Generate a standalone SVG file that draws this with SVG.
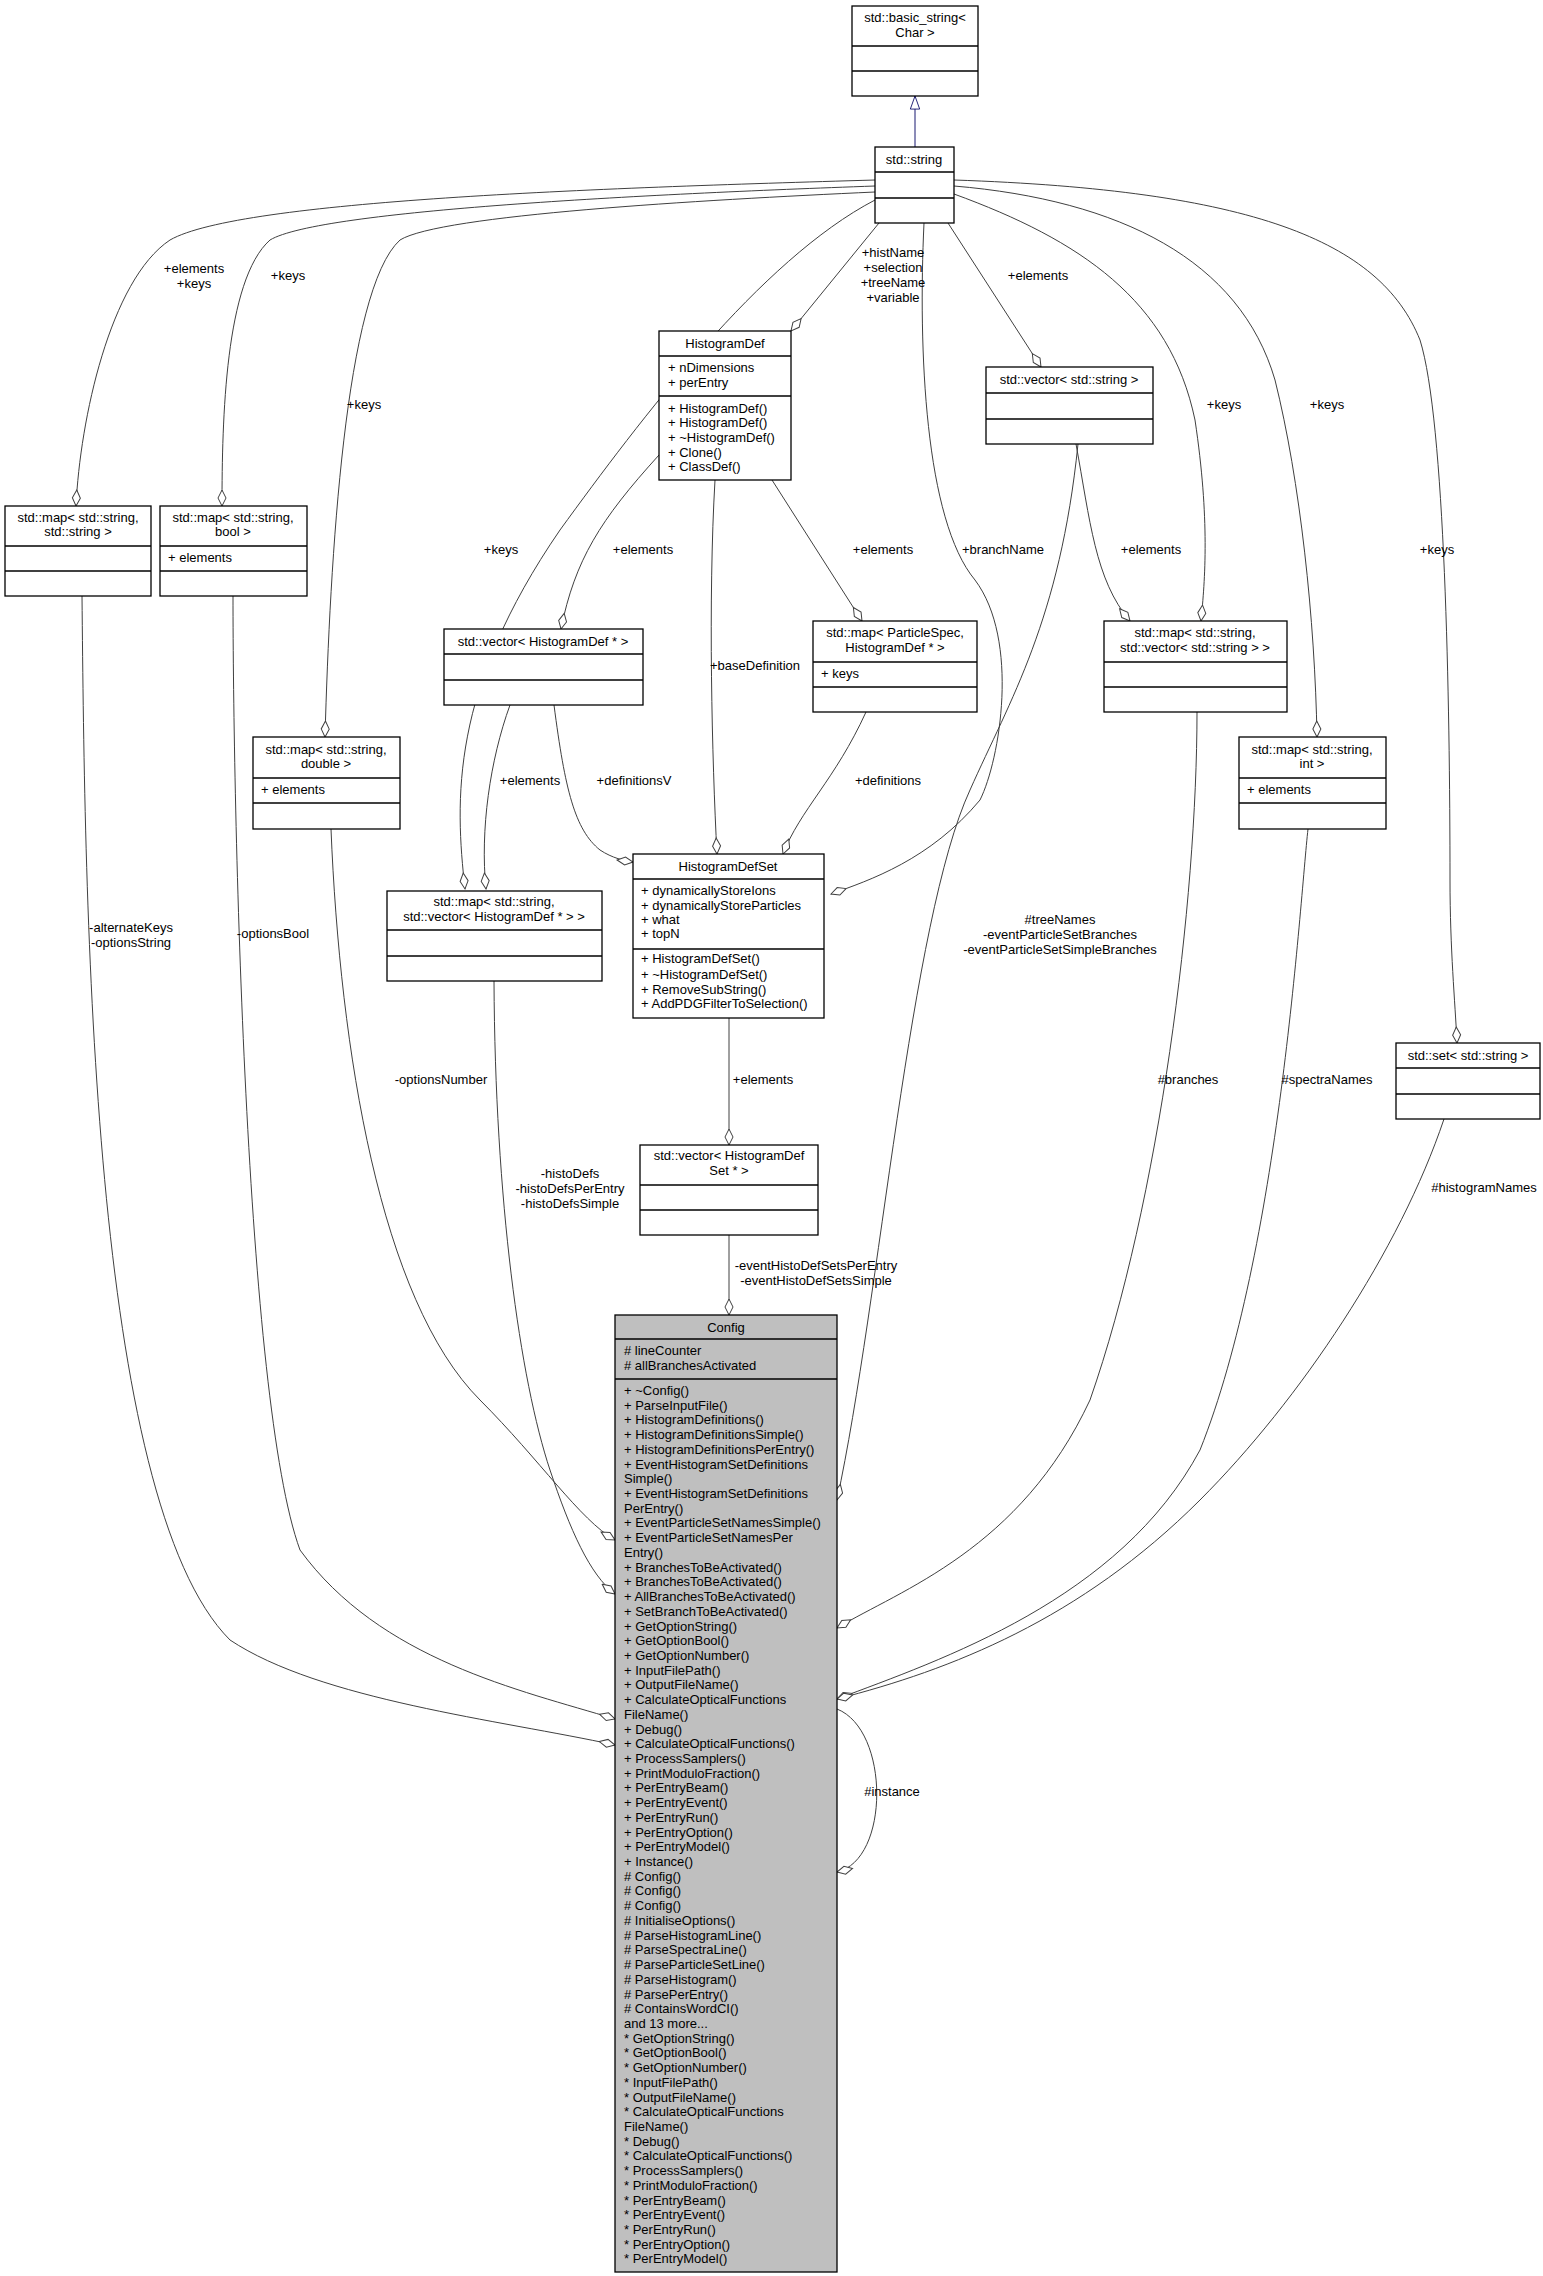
<svg xmlns="http://www.w3.org/2000/svg" width="1543" height="2276" viewBox="0 0 1543 2276">
<style>
text{font-family:"Liberation Sans",Arial,sans-serif;font-size:13px;fill:#000}
.c{text-anchor:middle}
.b{fill:#fff;stroke:#000;stroke-width:1.3}
.g{fill:#bfbfbf;stroke:#000;stroke-width:1.3}
.s{stroke:#000;stroke-width:1.3}
.e{fill:none;stroke:#404040;stroke-width:1}
.lb{font-size:13px}
</style>
<defs>
<marker id="d" markerUnits="userSpaceOnUse" markerWidth="18" markerHeight="10" viewBox="-1 -5 18 10" refX="16" refY="0" orient="auto"><path d="M0,0 L8,-4 L16,0 L8,4 z" fill="#fff" stroke="#404040"/></marker>
<marker id="t" markerUnits="userSpaceOnUse" markerWidth="14" markerHeight="14" viewBox="-1 -7 15 14" refX="14" refY="0" orient="auto"><path d="M0,-5 L14,0 L0,5 z" fill="#fff" stroke="#191970"/></marker>
</defs>
<rect width="1543" height="2276" fill="#fff"/>
<g id="edges">
<path class="e" style="stroke:#191970" d="M915,147 L915,96" marker-end="url(#t)"/>
<path class="e" d="M875,180 C600,188 240,200 170,240 C110,280 80,420 76,506" marker-end="url(#d)"/>
<path class="e" d="M875,186 C650,194 320,210 270,240 C225,280 222,420 222,506" marker-end="url(#d)"/>
<path class="e" d="M875,192 C700,200 440,215 400,240 C345,290 330,560 325,737" marker-end="url(#d)"/>
<path class="e" d="M875,200 C760,260 640,420 560,530 C450,690 455,800 465,889" marker-end="url(#d)"/>
<path class="e" d="M879,223 L791,331" marker-end="url(#d)"/>
<path class="e" d="M924,223 C918,350 925,520 975,580 C1020,640 1000,760 980,800 C930,860 870,880 831,894" marker-end="url(#d)"/>
<path class="e" d="M948,223 L1041,367" marker-end="url(#d)"/>
<path class="e" d="M954,194 C1080,240 1170,300 1195,420 C1210,520 1205,580 1201,621" marker-end="url(#d)"/>
<path class="e" d="M954,186 C1120,200 1240,260 1275,380 C1300,480 1315,620 1317,737" marker-end="url(#d)"/>
<path class="e" d="M954,180 C1250,190 1380,240 1420,340 C1445,420 1450,700 1450,880 C1450,950 1455,1000 1457,1043" marker-end="url(#d)"/>
<path class="e" d="M659,455 C600,520 575,560 561,629" marker-end="url(#d)"/>
<path class="e" d="M772,480 L862,621" marker-end="url(#d)"/>
<path class="e" d="M715,480 C708,600 712,760 717,854" marker-end="url(#d)"/>
<path class="e" d="M554,705 C565,790 575,830 600,850 C612,858 625,861 633,862" marker-end="url(#d)"/>
<path class="e" d="M510,705 C490,760 480,830 486,889" marker-end="url(#d)"/>
<path class="e" d="M866,712 C835,780 800,810 783,854" marker-end="url(#d)"/>
<path class="e" d="M1076,444 C1090,520 1095,580 1130,621" marker-end="url(#d)"/>
<path class="e" d="M1078,444 C1060,620 1010,700 970,790 C910,920 880,1300 837,1500" marker-end="url(#d)"/>
<path class="e" d="M729,1018 L729,1145" marker-end="url(#d)"/>
<path class="e" d="M729,1235 L729,1315" marker-end="url(#d)"/>
<path class="e" d="M1197,712 C1197,900 1160,1200 1090,1400 C1020,1550 900,1590 837,1628" marker-end="url(#d)"/>
<path class="e" d="M1308,829 C1300,900 1280,1250 1200,1450 C1120,1600 940,1660 837,1699" marker-end="url(#d)"/>
<path class="e" d="M1444,1119 C1400,1250 1300,1400 1200,1500 C1080,1620 950,1670 837,1699" marker-end="url(#d)"/>
<path class="e" d="M494,981 C495,1200 520,1380 550,1470 C570,1530 590,1575 615,1594" marker-end="url(#d)"/>
<path class="e" d="M331,829 C340,1050 380,1300 480,1400 C540,1460 580,1520 615,1540" marker-end="url(#d)"/>
<path class="e" d="M233,596 C233,800 245,1400 300,1550 C380,1660 520,1690 615,1719" marker-end="url(#d)"/>
<path class="e" d="M82,596 C85,900 90,1500 230,1640 C320,1700 500,1720 615,1745" marker-end="url(#d)"/>
<path class="e" d="M837,1709 C890,1730 890,1860 837,1872" marker-end="url(#d)"/>
</g>
<g id="labels">
<text class="c" x="194" y="273">+elements</text><text class="c" x="194" y="288">+keys</text>
<text class="c" x="288" y="280">+keys</text>
<text class="c" x="364" y="409">+keys</text>
<text class="c" x="501" y="554">+keys</text>
<text class="c" x="893" y="257">+histName</text><text class="c" x="893" y="272">+selection</text><text class="c" x="893" y="287">+treeName</text><text class="c" x="893" y="302">+variable</text>
<text class="c" x="1003" y="554">+branchName</text>
<text class="c" x="1038" y="280">+elements</text>
<text class="c" x="1224" y="409">+keys</text>
<text class="c" x="1327" y="409">+keys</text>
<text class="c" x="1437" y="554">+keys</text>
<text class="c" x="643" y="554">+elements</text>
<text class="c" x="883" y="554">+elements</text>
<text class="c" x="755" y="670">+baseDefinition</text>
<text class="c" x="634" y="785">+definitionsV</text>
<text class="c" x="530" y="785">+elements</text>
<text class="c" x="888" y="785">+definitions</text>
<text class="c" x="1151" y="554">+elements</text>
<text class="c" x="1060" y="924">#treeNames</text><text class="c" x="1060" y="939">-eventParticleSetBranches</text><text class="c" x="1060" y="954">-eventParticleSetSimpleBranches</text>
<text class="c" x="763" y="1084">+elements</text>
<text class="c" x="816" y="1270">-eventHistoDefSetsPerEntry</text><text class="c" x="816" y="1285">-eventHistoDefSetsSimple</text>
<text class="c" x="1188" y="1084">#branches</text>
<text class="c" x="1327" y="1084">#spectraNames</text>
<text class="c" x="1484" y="1192">#histogramNames</text>
<text class="c" x="570" y="1178">-histoDefs</text><text class="c" x="570" y="1193">-histoDefsPerEntry</text><text class="c" x="570" y="1208">-histoDefsSimple</text>
<text class="c" x="441" y="1084">-optionsNumber</text>
<text class="c" x="273" y="938">-optionsBool</text>
<text class="c" x="131" y="932">-alternateKeys</text><text class="c" x="131" y="947">-optionsString</text>
<text class="c" x="892" y="1796">#instance</text>
</g>
<g id="basic_string"><rect class="b" x="852" y="6" width="126" height="90"/><line class="s" x1="852" y1="46" x2="978" y2="46"/><line class="s" x1="852" y1="71" x2="978" y2="71"/><text class="c" x="915" y="22">std::basic_string&lt;</text><text class="c" x="915" y="37">Char &gt;</text></g>
<g id="string"><rect class="b" x="875" y="147" width="79" height="76"/><line class="s" x1="875" y1="172" x2="954" y2="172"/><line class="s" x1="875" y1="198" x2="954" y2="198"/><text class="c" x="914" y="164">std::string</text></g>
<g id="HistogramDef"><rect class="b" x="659" y="331" width="132" height="149"/><line class="s" x1="659" y1="356" x2="791" y2="356"/><line class="s" x1="659" y1="396" x2="791" y2="396"/><text class="c" x="725" y="348">HistogramDef</text><text x="668" y="372">+ nDimensions</text><text x="668" y="387">+ perEntry</text><text x="668" y="413">+ HistogramDef()</text><text x="668" y="427">+ HistogramDef()</text><text x="668" y="442">+ ~HistogramDef()</text><text x="668" y="457">+ Clone()</text><text x="668" y="471">+ ClassDef()</text></g>
<g id="vector_string"><rect class="b" x="986" y="367" width="167" height="77"/><line class="s" x1="986" y1="393" x2="1153" y2="393"/><line class="s" x1="986" y1="419" x2="1153" y2="419"/><text class="c" x="1069" y="384">std::vector&lt; std::string &gt;</text></g>
<g id="map_string_string"><rect class="b" x="5" y="506" width="146" height="90"/><line class="s" x1="5" y1="546" x2="151" y2="546"/><line class="s" x1="5" y1="571" x2="151" y2="571"/><text class="c" x="78" y="522">std::map&lt; std::string,</text><text class="c" x="78" y="536">std::string &gt;</text></g>
<g id="map_string_bool"><rect class="b" x="160" y="506" width="147" height="90"/><line class="s" x1="160" y1="546" x2="307" y2="546"/><line class="s" x1="160" y1="571" x2="307" y2="571"/><text class="c" x="233" y="522">std::map&lt; std::string,</text><text class="c" x="233" y="536">bool &gt;</text><text x="168" y="562">+ elements</text></g>
<g id="vector_HistogramDef"><rect class="b" x="444" y="629" width="199" height="76"/><line class="s" x1="444" y1="654" x2="643" y2="654"/><line class="s" x1="444" y1="680" x2="643" y2="680"/><text class="c" x="543" y="646">std::vector&lt; HistogramDef * &gt;</text></g>
<g id="map_ParticleSpec"><rect class="b" x="813" y="621" width="164" height="91"/><line class="s" x1="813" y1="662" x2="977" y2="662"/><line class="s" x1="813" y1="687" x2="977" y2="687"/><text class="c" x="895" y="637">std::map&lt; ParticleSpec,</text><text class="c" x="895" y="652">HistogramDef * &gt;</text><text x="821" y="678">+ keys</text></g>
<g id="map_string_vector_string"><rect class="b" x="1104" y="621" width="183" height="91"/><line class="s" x1="1104" y1="662" x2="1287" y2="662"/><line class="s" x1="1104" y1="687" x2="1287" y2="687"/><text class="c" x="1195" y="637">std::map&lt; std::string,</text><text class="c" x="1195" y="652">std::vector&lt; std::string &gt; &gt;</text></g>
<g id="map_string_double"><rect class="b" x="253" y="737" width="147" height="92"/><line class="s" x1="253" y1="778" x2="400" y2="778"/><line class="s" x1="253" y1="803" x2="400" y2="803"/><text class="c" x="326" y="754">std::map&lt; std::string,</text><text class="c" x="326" y="768">double &gt;</text><text x="261" y="794">+ elements</text></g>
<g id="map_string_int"><rect class="b" x="1239" y="737" width="147" height="92"/><line class="s" x1="1239" y1="778" x2="1386" y2="778"/><line class="s" x1="1239" y1="803" x2="1386" y2="803"/><text class="c" x="1312" y="754">std::map&lt; std::string,</text><text class="c" x="1312" y="768">int &gt;</text><text x="1247" y="794">+ elements</text></g>
<g id="HistogramDefSet"><rect class="b" x="633" y="854" width="191" height="164"/><line class="s" x1="633" y1="879" x2="824" y2="879"/><line class="s" x1="633" y1="949" x2="824" y2="949"/><text class="c" x="728" y="871">HistogramDefSet</text><text x="641" y="895">+ dynamicallyStoreIons</text><text x="641" y="910">+ dynamicallyStoreParticles</text><text x="641" y="924">+ what</text><text x="641" y="938">+ topN</text><text x="641" y="963">+ HistogramDefSet()</text><text x="641" y="979">+ ~HistogramDefSet()</text><text x="641" y="994">+ RemoveSubString()</text><text x="641" y="1008">+ AddPDGFilterToSelection()</text></g>
<g id="map_string_vector_HistogramDef"><rect class="b" x="387" y="891" width="215" height="90"/><line class="s" x1="387" y1="930" x2="602" y2="930"/><line class="s" x1="387" y1="956" x2="602" y2="956"/><text class="c" x="494" y="906">std::map&lt; std::string,</text><text class="c" x="494" y="921">std::vector&lt; HistogramDef * &gt; &gt;</text></g>
<g id="set_string"><rect class="b" x="1396" y="1043" width="144" height="76"/><line class="s" x1="1396" y1="1068" x2="1540" y2="1068"/><line class="s" x1="1396" y1="1094" x2="1540" y2="1094"/><text class="c" x="1468" y="1060">std::set&lt; std::string &gt;</text></g>
<g id="vector_HistogramDefSet"><rect class="b" x="640" y="1145" width="178" height="90"/><line class="s" x1="640" y1="1185" x2="818" y2="1185"/><line class="s" x1="640" y1="1210" x2="818" y2="1210"/><text class="c" x="729" y="1160">std::vector&lt; HistogramDef</text><text class="c" x="729" y="1175">Set * &gt;</text></g>
<g id="Config"><rect class="g" x="615" y="1315" width="222" height="957"/><line class="s" x1="615" y1="1339" x2="837" y2="1339"/><line class="s" x1="615" y1="1379" x2="837" y2="1379"/><text class="c" x="726" y="1332">Config</text><text x="624" y="1355"># lineCounter</text><text x="624" y="1370"># allBranchesActivated</text>
<text x="624" y="1395"><tspan x="624">+ ~Config()</tspan><tspan x="624" dy="14.72">+ ParseInputFile()</tspan><tspan x="624" dy="14.72">+ HistogramDefinitions()</tspan><tspan x="624" dy="14.72">+ HistogramDefinitionsSimple()</tspan><tspan x="624" dy="14.72">+ HistogramDefinitionsPerEntry()</tspan><tspan x="624" dy="14.72">+ EventHistogramSetDefinitions</tspan><tspan x="624" dy="14.72">Simple()</tspan><tspan x="624" dy="14.72">+ EventHistogramSetDefinitions</tspan><tspan x="624" dy="14.72">PerEntry()</tspan><tspan x="624" dy="14.72">+ EventParticleSetNamesSimple()</tspan><tspan x="624" dy="14.72">+ EventParticleSetNamesPer</tspan><tspan x="624" dy="14.72">Entry()</tspan><tspan x="624" dy="14.72">+ BranchesToBeActivated()</tspan><tspan x="624" dy="14.72">+ BranchesToBeActivated()</tspan><tspan x="624" dy="14.72">+ AllBranchesToBeActivated()</tspan><tspan x="624" dy="14.72">+ SetBranchToBeActivated()</tspan><tspan x="624" dy="14.72">+ GetOptionString()</tspan><tspan x="624" dy="14.72">+ GetOptionBool()</tspan><tspan x="624" dy="14.72">+ GetOptionNumber()</tspan><tspan x="624" dy="14.72">+ InputFilePath()</tspan><tspan x="624" dy="14.72">+ OutputFileName()</tspan><tspan x="624" dy="14.72">+ CalculateOpticalFunctions</tspan><tspan x="624" dy="14.72">FileName()</tspan><tspan x="624" dy="14.72">+ Debug()</tspan><tspan x="624" dy="14.72">+ CalculateOpticalFunctions()</tspan><tspan x="624" dy="14.72">+ ProcessSamplers()</tspan><tspan x="624" dy="14.72">+ PrintModuloFraction()</tspan><tspan x="624" dy="14.72">+ PerEntryBeam()</tspan><tspan x="624" dy="14.72">+ PerEntryEvent()</tspan><tspan x="624" dy="14.72">+ PerEntryRun()</tspan><tspan x="624" dy="14.72">+ PerEntryOption()</tspan><tspan x="624" dy="14.72">+ PerEntryModel()</tspan><tspan x="624" dy="14.72">+ Instance()</tspan><tspan x="624" dy="14.72"># Config()</tspan><tspan x="624" dy="14.72"># Config()</tspan><tspan x="624" dy="14.72"># Config()</tspan><tspan x="624" dy="14.72"># InitialiseOptions()</tspan><tspan x="624" dy="14.72"># ParseHistogramLine()</tspan><tspan x="624" dy="14.72"># ParseSpectraLine()</tspan><tspan x="624" dy="14.72"># ParseParticleSetLine()</tspan><tspan x="624" dy="14.72"># ParseHistogram()</tspan><tspan x="624" dy="14.72"># ParsePerEntry()</tspan><tspan x="624" dy="14.72"># ContainsWordCI()</tspan><tspan x="624" dy="14.72">and 13 more...</tspan><tspan x="624" dy="14.72">* GetOptionString()</tspan><tspan x="624" dy="14.72">* GetOptionBool()</tspan><tspan x="624" dy="14.72">* GetOptionNumber()</tspan><tspan x="624" dy="14.72">* InputFilePath()</tspan><tspan x="624" dy="14.72">* OutputFileName()</tspan><tspan x="624" dy="14.72">* CalculateOpticalFunctions</tspan><tspan x="624" dy="14.72">FileName()</tspan><tspan x="624" dy="14.72">* Debug()</tspan><tspan x="624" dy="14.72">* CalculateOpticalFunctions()</tspan><tspan x="624" dy="14.72">* ProcessSamplers()</tspan><tspan x="624" dy="14.72">* PrintModuloFraction()</tspan><tspan x="624" dy="14.72">* PerEntryBeam()</tspan><tspan x="624" dy="14.72">* PerEntryEvent()</tspan><tspan x="624" dy="14.72">* PerEntryRun()</tspan><tspan x="624" dy="14.72">* PerEntryOption()</tspan><tspan x="624" dy="14.72">* PerEntryModel()</tspan></text></g>
</svg>
